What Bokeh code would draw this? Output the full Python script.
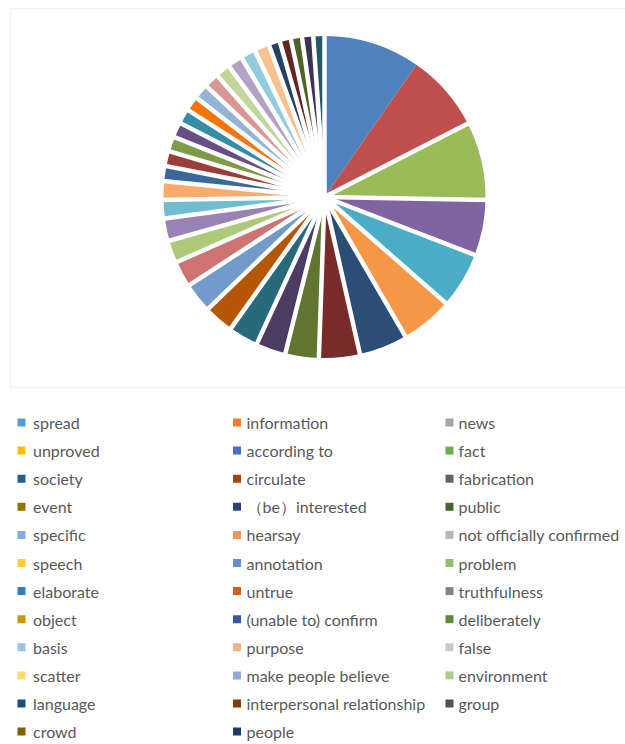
import numpy as np
from bokeh.plotting import figure
from bokeh.models import Range1d, BoxAnnotation, ColumnDataSource
from bokeh.core.properties import value
from bokeh.embed import file_html
from bokeh.resources import INLINE

# ---- data -------------------------------------------------------------
terms = ["spread", "information", "news", "unproved", "according to", "fact",
         "society", "circulate", "fabrication", "event", "（be）interested", "public",
         "specific", "hearsay", "not officially confirmed", "speech", "annotation", "problem",
         "elaborate", "untrue", "truthfulness", "object", "(unable to) confirm", "deliberately",
         "basis", "purpose", " false", "scatter", "make people believe", "environment",
         "language", "interpersonal relationship", "group", "crowd", "people"]
counts = [26, 21, 21, 15, 15, 14,
          13, 11, 9, 8, 8, 8,
          8, 7, 6, 6, 5, 5,
          4, 4, 4, 4, 4, 4,
          4, 4, 4, 4, 4, 4,
          3, 3, 3, 3, 3]
pie_colors = ["#4F81BD", "#C0504D", "#9BBB59", "#8064A2", "#4BACC6", "#F79646",
              "#2C4D75", "#772C2A", "#5F7530", "#4D3B62", "#276A7C", "#B65708",
              "#729ACA", "#CD7371", "#AFC97A", "#9983B5", "#6FBDD1", "#F9AB6B",
              "#3A679C", "#9C3D3A", "#7E9B45", "#664F85", "#358DA6", "#F3740B",
              "#95B3D7", "#D99694", "#C3D69B", "#B3A2C7", "#93CDDD", "#FAC090",
              "#254061", "#632523", "#4F6228", "#3F3151", "#215968"]
legend_colors = ["#5B9BD5", "#ED7D31", "#A5A5A5", "#FFC000", "#4472C4", "#70AD47",
                 "#255E91", "#9E480E", "#636363", "#997300", "#264478", "#43682B",
                 "#7CAFDD", "#F1975A", "#B7B7B7", "#FFCD33", "#698ED0", "#8CC168",
                 "#327DC2", "#D26012", "#848484", "#CC9A00", "#335AA1", "#5A8A39",
                 "#9DC3E6", "#F4B183", "#C9C9C9", "#FFD966", "#8FAADC", "#A9D18E",
                 "#1F4E79", "#843C0C", "#525252", "#7F6000", "#203864"]

# ---- layout (data units == screen pixels, y measured from the bottom) ---
W, H = 625, 744
CX, CY, R = 324, 547.5, 161
COL_SQ = [21, 236.5, 449]
COL_TX = [32.5, 246, 458]
ROW0, ROW_STEP = 322, 28.1

p = figure(width=W, height=H, x_range=Range1d(0, W), y_range=Range1d(0, H),
           output_backend="svg", toolbar_location=None, min_border=0,
           x_axis_location=None, y_axis_location=None)
p.grid.visible = False
p.outline_line_color = None
p.background_fill_color = "white"
p.border_fill_color = "white"

# chart-area frame
p.add_layout(BoxAnnotation(left=10, right=W + 50, bottom=357, top=736,
                           fill_alpha=0, line_color="#D9D9D9", line_width=1.5))

# ---- pie ---------------------------------------------------------------
vals = np.array(counts, dtype=float)
frac = vals / vals.sum()
theta_end = 2 * np.pi * np.cumsum(frac)          # clockwise from 12 o'clock
theta_start = theta_end - 2 * np.pi * frac

src = ColumnDataSource(dict(
    start=np.pi / 2 - theta_end,
    end=np.pi / 2 - theta_start,
    color=pie_colors,
    term=terms,
))
p.wedge(x=CX, y=CY, radius=R, radius_units="screen",
        start_angle="start", end_angle="end", direction="anticlock",
        fill_color="color", line_color=None, source=src)

# white separators between slices (none between the first two slices)
sep = [np.pi / 2 - theta_start[i] for i in range(len(counts)) if i != 1]
p.ray(x=[CX] * len(sep), y=[CY] * len(sep), angle=sep, length=R + 4,
      length_units="screen", line_color="white", line_width=4.5)

# ---- legend ------------------------------------------------------------
idx = np.arange(len(terms))
rows = idx // 3
cols = idx % 3
ly = ROW0 - rows * ROW_STEP
lsrc = ColumnDataSource(dict(
    xs=[COL_SQ[c] for c in cols],
    xt=[COL_TX[c] for c in cols],
    y=ly,
    color=legend_colors,
    text=terms,
))
p.scatter(x="xs", y="y", marker="square", size=8, fill_color="color",
          line_color=None, source=lsrc)
p.text(x="xt", y="y", text="text", source=lsrc, text_font=value("Lato"),
       text_font_size="16px", text_color="#595959",
       text_baseline="middle", text_align="left")

open("out.html", "w").write(file_html(p, INLINE))
